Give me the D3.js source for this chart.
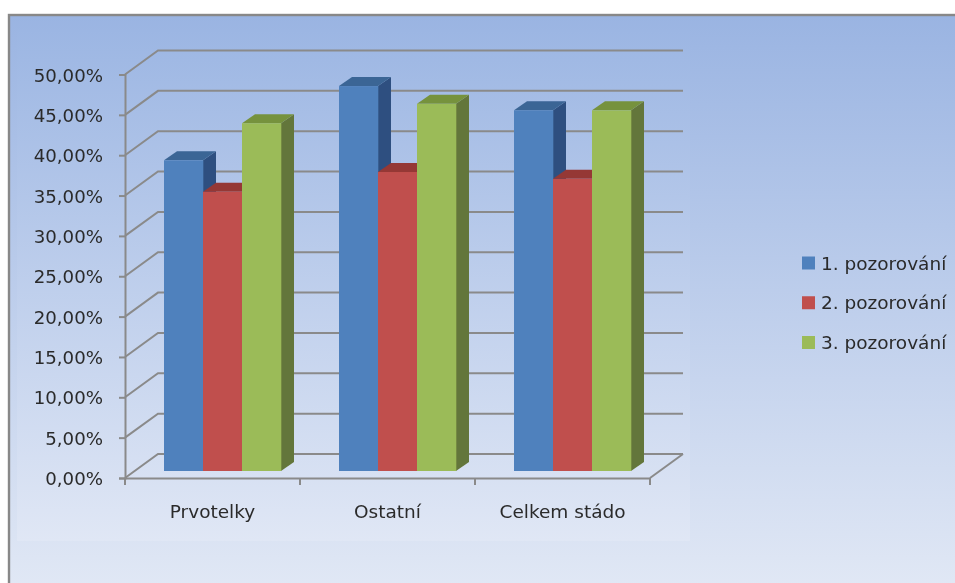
<!DOCTYPE html>
<html><head><meta charset="utf-8">
<script src="https://cdn.jsdelivr.net/npm/d3@7"></script>
<style>html,body{margin:0;padding:0;background:#fff;overflow:hidden}
text{font-family:"DejaVu Sans",sans-serif;fill:#2b2b2b}</style></head><body>
<svg id="c" width="955" height="583"></svg>
<script>
const categories = ["Prvotelky", "Ostatní", "Celkem stádo"];
const seriesNames = ["1. pozorování", "2. pozorování", "3. pozorování"];
const observation1 = [38.5, 47.7, 44.7];
const observation2 = [34.6, 37.05, 36.2];
const observation3 = [43.1, 45.5, 44.7];
const yTicks = [0, 5, 10, 15, 20, 25, 30, 35, 40, 45, 50];
const faceColors = ["#4f81bd", "#c0504d", "#9bbb59"];
const topColors = ["#3b6595", "#953735", "#76923c"];
const sideColors = ["#2f5080", "#7f3331", "#64763a"];

const allSeries = [observation1, observation2, observation3];
const svg = d3.select("#c");
const defs = svg.append("defs");
const grad = (id, stops) => {
  const g = defs.append("linearGradient").attr("id", id).attr("x1", 0).attr("x2", 0).attr("y1", 0).attr("y2", 1);
  stops.forEach(([o, c]) => g.append("stop").attr("offset", o).attr("stop-color", c));
};
grad("bg", [[0, "#9ab4e2"], [1, "#e1e8f5"]]);
grad("plot", [[0, "#9cb6e3"], [1, "#e0e7f5"]]);
defs.append("filter").attr("id", "soft").append("feGaussianBlur").attr("stdDeviation", 0.4);

svg.append("rect").attr("x", 9).attr("y", 15).attr("width", 960).attr("height", 575)
  .attr("fill", "url(#bg)").attr("stroke", "#888888").attr("stroke-width", 2.4);
svg.append("rect").attr("x", 17).attr("y", 30).attr("width", 673).attr("height", 511)
  .attr("fill", "url(#plot)");

const depthX = 33, depthY = 24;
const barDepthX = 13, barDepthY = 9;
const y = d3.scaleLinear().domain([0, 50]).range([478, 74.5]);
const x = d3.scaleBand().domain(categories).range([125, 650]);
const barBase = 471;
const barX = d3.scaleBand().domain(d3.range(3)).range([39, 156]);

const root = svg.append("g").attr("filter", "url(#soft)");
const gridColor = "#8a8a8a";
const gridWidth = 2;

root.append("g").selectAll("path").data(yTicks).join("path")
  .attr("fill", "none").attr("stroke", gridColor).attr("stroke-width", gridWidth)
  .attr("d", d => `M${x.range()[0]},${y(d)}l${depthX},${-depthY}H${x.range()[1] + depthX}`);
root.append("path").attr("fill", "none").attr("stroke", gridColor).attr("stroke-width", gridWidth)
  .attr("d", `M${x.range()[1]},${y(0)}l${depthX},${-depthY}`);

const yAxis = d3.axisLeft(y).tickValues(yTicks).tickSize(6).tickPadding(16)
  .tickFormat(d => d3.format(".2f")(d).replace(".", ",") + "%");
const xAxis = d3.axisBottom(x).tickSize(0).tickPadding(27);
const gy = root.append("g").attr("transform", `translate(${x.range()[0]},0)`).call(yAxis);
const gx = root.append("g").attr("transform", `translate(0,${y(0)})`).call(xAxis);
[gy, gx].forEach(g => {
  g.selectAll(".domain,.tick line").attr("stroke", gridColor).attr("stroke-width", gridWidth);
});
gy.selectAll("text").attr("font-size", 18.2).attr("dy", "0.36em").style("font-family", '"DejaVu Sans"').style("fill", "#2b2b2b");
gx.selectAll("text").attr("font-size", 18.5).style("font-family", '"DejaVu Sans"').style("fill", "#2b2b2b");
root.append("g").selectAll("line").data(categories.map(c => x(c)).concat(x.range()[1])).join("line")
  .attr("x1", d => d).attr("x2", d => d).attr("y1", y(0)).attr("y2", y(0) + 7)
  .attr("stroke", gridColor).attr("stroke-width", gridWidth);

const bars = categories.flatMap((c, ci) => allSeries.map((s, si) => ({ c, si, v: s[ci] })));
const bw = barX.bandwidth();
const gb = root.append("g").selectAll("g").data(bars).join("g")
  .attr("transform", d => `translate(${x(d.c) + barX(d.si)},0)`);
const barTop = d => barBase - (y(0) - y(d.v));
gb.append("path").attr("fill", d => sideColors[d.si])
  .attr("d", d => `M${bw},${barTop(d)}l${barDepthX},${-barDepthY}V${barBase - barDepthY}l${-barDepthX},${barDepthY}Z`);
gb.append("path").attr("fill", d => topColors[d.si])
  .attr("d", d => `M0,${barTop(d)}l${barDepthX},${-barDepthY}H${bw + barDepthX}l${-barDepthX},${barDepthY}Z`);
gb.append("rect").attr("x", 0).attr("width", bw + 0.3).attr("y", barTop).attr("height", d => barBase - barTop(d))
  .attr("fill", d => faceColors[d.si]);

const legendY = d3.scalePoint().domain(seriesNames).range([263, 342.5]);
const lg = root.append("g").selectAll("g").data(seriesNames).join("g")
  .attr("transform", d => `translate(802,${legendY(d)})`);
lg.append("rect").attr("x", 0).attr("y", -6.5).attr("width", 13).attr("height", 13)
  .attr("fill", (d, i) => faceColors[i]);
lg.append("text").attr("x", 19).attr("y", 6.5).attr("font-size", 18.5).text(d => d);
</script></body></html>
